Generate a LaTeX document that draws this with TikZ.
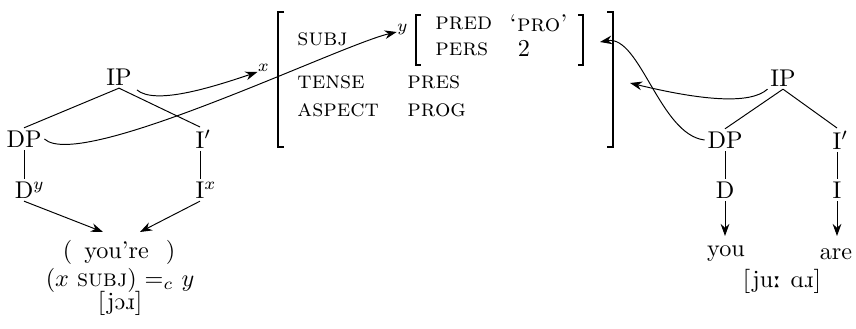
\documentclass[tikz,border=0pt]{standalone}
\usepackage{tipa}
\usetikzlibrary{arrows.meta}
\begin{document}
\begin{tikzpicture}[x=0.4132pt,y=-0.4132pt,
  tn/.style={inner sep=1pt},
  lab/.style={inner sep=0pt},
  feat/.style={inner sep=0pt,anchor=west},
  br/.style={line width=0.8pt},
  tl/.style={line width=0.4pt},
  arr/.style={line width=0.4pt,-{Stealth[length=5pt,width=3.6pt]}}]
\useasboundingbox (0,0) rectangle (856,329);
% left tree
\node[tn] (IP) at (119,77) {IP};
\node[tn] (DP) at (24,139) {DP};
\node[tn] (Ib) at (200,139) {I\rlap{$'$}};
\node[tn] (Dy) at (24,190) {D\rlap{$^y$}};
\node[tn] (Ix) at (200,190) {I\rlap{$^x$}};
\node[lab] (yr) at (119,252) {(\hspace{5pt}you’re\hspace{7pt})};
\node[lab] (eq) at (120,280) {$(x$ \textsc{subj}$)$ $=_c$ $y$};
\node[lab] (ipaL) at (120,303) {\textipa{[jO\*r]}};
\coordinate (yrL) at (103,232);
\coordinate (yrR) at (140,232);
\draw[tl] (IP.south) -- (DP.north);
\draw[tl] (IP.south) -- (Ib.north);
\draw[tl] (DP.south) -- (Dy.north);
\draw[tl] (Ib.south) -- (Ix.north);
\draw[arr] (Dy.south) -- (yrL);
\draw[arr] (Ix.south) -- (yrR);
% AVM
\draw[br] (284,12) -- (278,12) -- (278,147) -- (284,147);
\draw[br] (607,12) -- (613,12) -- (613,147) -- (607,147);
\draw[br] (421,15) -- (416,15) -- (416,65) -- (421,65);
\draw[br] (578,15) -- (583,15) -- (583,65) -- (578,65);
\node[lab] (xlab) at (264,72) {$^x$};
\node[lab] (ylab) at (403,32) {$^y$};
\node[feat] (subj) at (297,39) {\textsc{subj}};
\node[feat] (tense) at (297,82) {\textsc{tense}};
\node[feat] (aspect) at (297,110) {\textsc{aspect}};
\node[feat] (pres) at (407,82) {\textsc{pres}};
\node[feat] (prog) at (407,110) {\textsc{prog}};
\node[feat] (pred) at (435,23) {\textsc{pred}};
\node[feat] (pers) at (435,49) {\textsc{pers}};
\node[feat] (pro) at (509,23) {\textsc{‘pro’}};
\node[lab] (two) at (524,48) {2};
\coordinate (avmR) at (630,83);
\coordinate (innerR) at (600,42);
% right tree
\node[tn] (IP2) at (783,78) {IP};
\node[tn] (DP2) at (725,140) {DP};
\node[tn] (Ib2) at (837,140) {I\rlap{$'$}};
\node[tn] (D2) at (725,190) {D};
\node[tn] (I2) at (837,190) {I};
\node[lab] (you) at (726,254) {you};
\node[lab] (are) at (836,254) {are};
\node[lab] (ipaR) at (782,281) {\textipa{[ju: A\*r]}};
\draw[tl] (IP2.south) -- (DP2.north);
\draw[tl] (IP2.south) -- (Ib2.north);
\draw[tl] (DP2.south) -- (D2.north);
\draw[tl] (Ib2.south) -- (I2.north);
\draw[arr] (D2.south) -- (D2.south |- 0,236);
\draw[arr] (I2.south) -- (I2.south |- 0,236);
% curved arrows
\draw[arr] (137,90) .. controls (155,105) and (210,88) .. (xlab.west);
\draw[arr] (DP.east) .. controls (80,172) and (340,45) .. (ylab.west);
\draw[arr] (IP2.south west) .. controls (750,105) and (700,100) .. (avmR);
\draw[arr] (DP2.west) .. controls (660,135) and (640,35) .. (innerR);
\end{tikzpicture}
\end{document}
